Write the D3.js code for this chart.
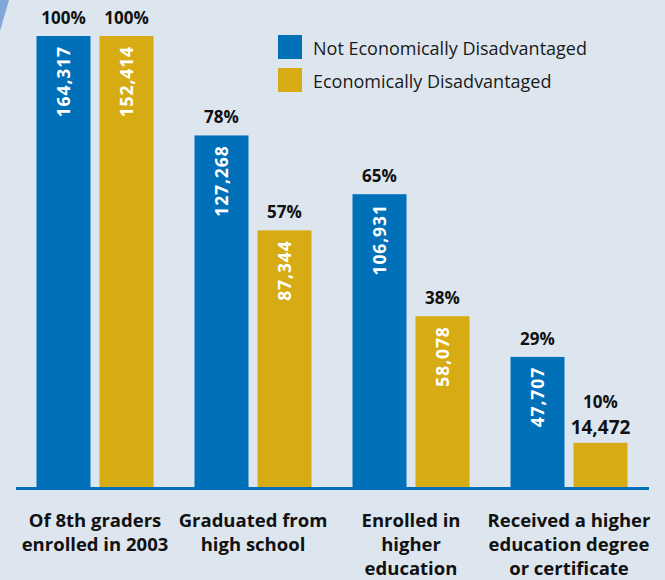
<!DOCTYPE html>
<html>
<head>
<meta charset="utf-8">
<script src="https://cdn.jsdelivr.net/npm/d3@7"></script>
<style>
    body { margin: 0; background: #dde6ef; }
    svg { display: block; font-family: "Open Sans", sans-serif; }
</style>
</head>
<body>
<div id="chart"></div>
<script>
// categories (one entry per line of the axis label)
const categories = [
    ["Of 8th graders", "enrolled in 2003"],
    ["Graduated from", "high school"],
    ["Enrolled in", "higher", "education"],
    ["Received a higher", "education degree", "or certificate"]
];
const seriesNames = ["Not Economically Disadvantaged", "Economically Disadvantaged"];
const seriesColors = ["#0070b9", "#d6ab13"];

// student counts
const notDisadvCounts = [164317, 127268, 106931, 47707];
const disadvCounts = [152414, 87344, 58078, 14472];

// share of the 2003 cohort (bar heights)
const notDisadvPct = [100, 78, 65, 29];
const disadvPct = [100, 57, 38, 10];

const width = 665, height = 580;
const baseline = 488;

const svg = d3.select("#chart").append("svg")
    .attr("width", width)
    .attr("height", height);

svg.append("rect")
    .attr("width", width).attr("height", height)
    .attr("fill", "#dde6ef");

// corner decoration
svg.append("path")
    .attr("d", "M0,0 L9,0 L0,31 Z")
    .attr("fill", "#80a7d8");

const keys = categories.map((c, i) => i);
const x0 = d3.scaleBand()
    .domain(keys)
    .range([16, 648])
    .paddingInner(41 / 158)
    .paddingOuter(20.5 / 158);

const x1 = d3.scaleBand()
    .domain([0, 1])
    .range([0, x0.bandwidth()])
    .paddingInner(9 / 63);

const y = d3.scaleLinear()
    .domain([0, 100])
    .range([baseline, 36]);

const fmt = d3.format(",");

const rows = keys.map(i => ({
    i,
    bars: [
        { s: 0, pct: notDisadvPct[i], n: notDisadvCounts[i] },
        { s: 1, pct: disadvPct[i], n: disadvCounts[i] }
    ]
}));

const group = svg.append("g").selectAll("g")
    .data(rows)
    .enter().append("g")
    .attr("transform", d => `translate(${x0(d.i)},0)`);

const bar = group.selectAll("g")
    .data(d => d.bars)
    .enter().append("g");

bar.append("rect")
    .attr("x", d => x1(d.s))
    .attr("width", x1.bandwidth())
    .attr("y", d => y(d.pct))
    .attr("height", d => baseline - y(d.pct))
    .attr("fill", d => seriesColors[d.s]);

// counts: inside the bar when it fits, otherwise above it
const fits = d => baseline - y(d.pct) > 90;

bar.filter(fits).append("text")
    .attr("transform", d => `translate(${x1(d.s) + x1.bandwidth() / 2},${y(d.pct) + 10}) rotate(-90)`)
    .attr("text-anchor", "end")
    .attr("dy", "0.36em")
    .attr("fill", "#fff")
    .attr("font-weight", "bold")
    .attr("font-size", "17.5px")
    .attr("letter-spacing", "0.9px")
    .text(d => fmt(d.n));

bar.filter(d => !fits(d)).append("text")
    .attr("x", d => x1(d.s) + x1.bandwidth() / 2)
    .attr("y", d => y(d.pct) - 9)
    .attr("text-anchor", "middle")
    .attr("fill", "#111")
    .attr("font-weight", "bold")
    .attr("font-size", "19px")
    .text(d => fmt(d.n));

bar.append("text")
    .attr("x", d => x1(d.s) + x1.bandwidth() / 2)
    .attr("y", d => y(d.pct) - (fits(d) ? 12 : 35))
    .attr("text-anchor", "middle")
    .attr("fill", "#111")
    .attr("font-weight", "bold")
    .attr("font-size", "17px")
    .text(d => d.pct + "%");

// baseline
svg.append("line")
    .attr("x1", 16).attr("x2", 649)
    .attr("y1", baseline + 0.5).attr("y2", baseline + 0.5)
    .attr("stroke", "#0070b9")
    .attr("stroke-width", 3);

// category labels
const label = svg.append("g").selectAll("text")
    .data(rows)
    .enter().append("text")
    .attr("text-anchor", "middle")
    .attr("fill", "#111")
    .attr("font-weight", "bold")
    .attr("font-size", "18.5px");

label.selectAll("tspan")
    .data(d => categories[d.i].map(t => ({ t, c: x0(d.i) + x0.bandwidth() / 2 })))
    .enter().append("tspan")
    .attr("x", d => d.c)
    .attr("y", (d, j) => 527 + j * 24)
    .text(d => d.t);

// legend
const legend = svg.append("g")
    .attr("transform", "translate(278,35)")
    .selectAll("g")
    .data(seriesNames)
    .enter().append("g")
    .attr("transform", (d, i) => `translate(0,${i * 33})`);

legend.append("rect")
    .attr("width", 24).attr("height", 24)
    .attr("fill", (d, i) => seriesColors[i]);

legend.append("text")
    .attr("x", 35)
    .attr("y", 20)
    .attr("fill", "#1a1a1a")
    .attr("font-size", "18px")
    .text(d => d);
</script>
</body>
</html>
